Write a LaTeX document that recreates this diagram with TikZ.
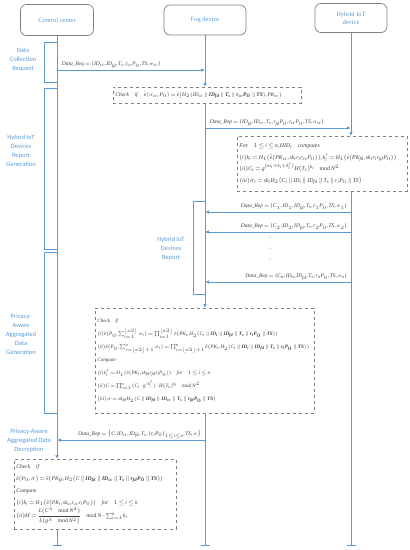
\documentclass[tikz,border=0pt]{standalone}
\usepackage{amsmath,amssymb}
\usepackage{fontspec}
\setmainfont{Liberation Serif}
\newfontfamily\phasefont{Carlito}
\usepackage[italic]{mathastext}
\usetikzlibrary{arrows.meta, positioning}
\definecolor{lineblue}{HTML}{5B9BD5}
\definecolor{boxgray}{HTML}{7F7F7F}
\definecolor{msgtext}{HTML}{3F3F3F}
\newcommand{\hb}[1]{\boldsymbol{#1}}
\newcommand{\tightmath}{\thinmuskip=1.5mu\medmuskip=1.5mu\thickmuskip=2.5mu}
\tikzset{
	actor/.style={rectangle, rounded corners=6pt, draw=boxgray, line width=0.7pt, text=lineblue, align=center, font=\fontsize{6.5}{8}\selectfont},
	lifeline/.style={draw=lineblue, line width=0.8pt},
	activation/.style={draw=lineblue, line width=0.8pt},
	phase/.style={text=lineblue, align=center, font=\phasefont\fontsize{6.5}{9}\selectfont},
	msg/.style={draw=lineblue, line width=0.8pt, -{Latex[length=4pt,width=3.5pt]}},
	msglabel/.style={text=msgtext, font=\fontsize{5.5}{6}\selectfont\tightmath, inner sep=1.5pt},
	calcbox/.style={rectangle, draw=boxgray, dashed, line width=0.7pt, fill=white, anchor=north west, align=left, text=msgtext, inner sep=2pt}
}
\begin{document}
\begin{tikzpicture}[x=1pt, y=-1pt]
	\useasboundingbox (0,0) rectangle (410,550);
	% Teilnehmer
	\node (cc) [actor, minimum width=73pt, minimum height=31pt] at (57,20) {Control center};
	\node (fog) [actor, minimum width=82pt, minimum height=30pt] at (205,20) {Fog device};
	\node (iot) [actor, minimum width=72pt, minimum height=29pt] at (351,18) {Hybrid IoT\\device};

	% Phasen links
	\node (p1) [phase] at (23,60) {Data\\Collection\\Request};
	\node (p2) [phase] at (21,151) {Hybrid IoT\\Devices\\Report\\Generation};
	\node (p3) [phase] at (21,334) {Privacy-\\Aware\\Aggregated\\Data\\Generation};
	\node (p4) [phase] at (29,441) {Privacy-Aware\\Aggregated Data\\Decryption};
	\node (p5) [phase] at (171,249) {Hybrid IoT\\Devices\\Report};

	\draw [activation] (44,42) rectangle (57,82);
	\draw [activation] (44,88) rectangle (57,249);
	\draw [activation] (44,252) rectangle (57,413);
	\draw [activation] (193,201) rectangle (205,294);

	% Rechenkaesten
	\node (chk1) [calcbox, text width=184pt, minimum height=16pt, font=\fontsize{5.5}{7}\selectfont\tightmath] at (113,87)
		{\textit{Check}\quad\textit{if}\quad $\hat{e}(\sigma_{cc},P_0)=\hat{e}\big(H_2(ID_{cc}\parallel\hb{ID_{fd}}\parallel\hb{T_s}\parallel\hb{r_{cc}P_0}\parallel\hb{TS}),PK_{cc}\big)$};
	\node (hiid) [calcbox, text width=166pt, minimum height=55pt, font=\fontsize{5.8}{11.5}\selectfont\tightmath] at (237,136)
		{\textit{For}\quad $1\le i\le n, HID_i$\quad\textit{computes}\\
		$(i)k_i=H_1(\hat{e}(PK_{cc},sk_ir_ir_{cc}P_0)),k'_i=H_1(\hat{e}(PK_{fd},sk_ir_ir_{fd}P_0))$\\
		$(ii)C_i=g^{(m_i+k_i+k'_i)}H(T_s)^{k_i}\mod N^2$\\
		$(iii)\sigma_i=sk_iH_2\big(C_i\parallel ID_i\parallel ID_{fd}\parallel T_s\parallel r_iP_0\parallel TS\big)$};
	\node (agg) [calcbox, text width=215pt, minimum height=105pt, font=\fontsize{5.1}{13}\selectfont\tightmath] at (95,308)
		{\textit{Check}\quad\textit{if}\\
		$(i)\hat{e}(P_0,\sum_{i=1}^{\lfloor n/2\rfloor}\sigma_i)=\prod_{i=1}^{\lfloor n/2\rfloor}\hat{e}(PK_i,H_2(C_i\parallel\hb{ID_i}\parallel\hb{ID_{fd}}\parallel\hb{T_s}\parallel\hb{r_iP_0}\parallel\hb{TS}))$\\
		$(ii)\hat{e}(P_0,\sum_{i=\lfloor n/2\rfloor+1}^{n}\sigma_i)=\prod_{i=\lfloor n/2\rfloor+1}^{n}\hat{e}(PK_i,H_2(C_i\parallel\hb{ID_i}\parallel\hb{ID_{fd}}\parallel\hb{T_s}\parallel\hb{r_iP_0}\parallel\hb{TS}))$\\
		\textit{Compute}\\
		$(i)k'_i=H_1(\hat{e}(PK_i,sk_{fd}r_{fd}r_iP_0))$\quad\textit{for}\quad $1\le i\le n$\\
		$(ii)C=\prod_{i=1}^{n}(C_i\cdot g^{-k'_i})\cdot H(T_s)^{k_i}\mod N^2$\\
		$(iii)\sigma=sk_{fd}H_2(C\parallel\hb{ID_{fd}}\parallel\hb{ID_{cc}}\parallel\hb{T_s}\parallel\hb{r_{fd}P_0}\parallel\hb{TS})$};
	\node (dec) [calcbox, text width=158pt, minimum height=70pt, font=\fontsize{5.6}{12}\selectfont\tightmath] at (14,459)
		{\textit{Check}\quad\textit{if}\\
		$\hat{e}(P_0,\sigma)=\hat{e}(PK_{fd},H_2(C\parallel\hb{ID_{fd}}\parallel\hb{ID_{cc}}\parallel\hb{T_s}\parallel\hb{r_{fd}P_0}\parallel\hb{TS}))$\\
		\textit{Compute}\\
		$(i)k_i=H_1(\hat{e}(PK_i,sk_{cc}r_{cc}r_iP_0))$\quad\textit{for}\quad $1\le i\le n$\\
		$(ii)M=\dfrac{L(C^{\lambda}\mod N^2)}{L(g^{\lambda}\mod N^2)}\mod N-\sum_{i=1}^{n}k_i$};

	% Lebenslinien
	\coordinate (ccend) at (57,545);
	\coordinate (fogend) at (205,545);
	\coordinate (iotend) at (351,545);
	\draw [msg] (cc) -- (dec.north -| cc);
	\draw [lifeline] (dec.south -| cc) -- (ccend);
	\draw [msg] (fog) -- (chk1.north -| fog);
	\draw [msg] (chk1.south -| fog) -- (agg.north -| fog);
	\draw [lifeline] (agg.south -| fog) -- (fogend);
	\draw [msg] (iot) -- (hiid.north -| iot);
	\draw [lifeline] (hiid.south -| iot) -- (iotend);
	\foreach \e in {ccend, fogend, iotend}
		\draw [lifeline] ([xshift=-4.5pt]\e) -- ([xshift=4.5pt]\e);

	% Nachrichten
	\coordinate (req-cc) at (cc |- 0,70);
	\coordinate (req-fog) at (fog |- 0,70);
	\draw [msg] (req-cc) -- node [msglabel, above right, pos=0, xshift=3pt] {$\mathit{Data\_Req}=\{ID_{cc},ID_{fd},T_s,r_{cc}P_0,TS,\sigma_{cc}\}$} (req-fog);

	\coordinate (rep-fog) at (fog |- 0,128);
	\coordinate (rep-iot) at (iot |- 0,128);
	\draw [msg] (rep-fog) -- node [msglabel, above right, pos=0, xshift=3pt] {$\mathit{Data\_Rep}=\{ID_{fd},ID_{cc},T_s,r_{fd}P_0,r_{cc}P_0,TS,\sigma_{cc}\}$} (rep-iot);

	\foreach \k/\yy in {1/212, 2/232, n/282} {
		\coordinate (up-iot-\k) at (iot |- 0,\yy);
		\coordinate (up-fog-\k) at (fog |- 0,\yy);
		\draw [msg] (up-iot-\k) -- node [msglabel, above left, pos=0, xshift=-2pt] {$\mathit{Data\_Rep}=\{C_\k,ID_\k,ID_{fd},T_s,r_\k P_0,TS,\sigma_\k\}$} (up-fog-\k);
	}
	\foreach \yy in {237,248,259}
		\fill [msgtext] (270,\yy) circle (0.5pt);

	\coordinate (agg-fog) at (fog |- 0,440);
	\coordinate (agg-cc) at (cc |- 0,440);
	\draw [msg] (agg-fog) -- node [msglabel, above left, pos=0, xshift=-2pt] {$\mathit{Data\_Rep}=\big\{C,ID_{cc},ID_{fd},T_s,\{r_iP_0\}_{1\le i\le n},TS,\sigma\big\}$} (agg-cc);
\end{tikzpicture}
\end{document}
